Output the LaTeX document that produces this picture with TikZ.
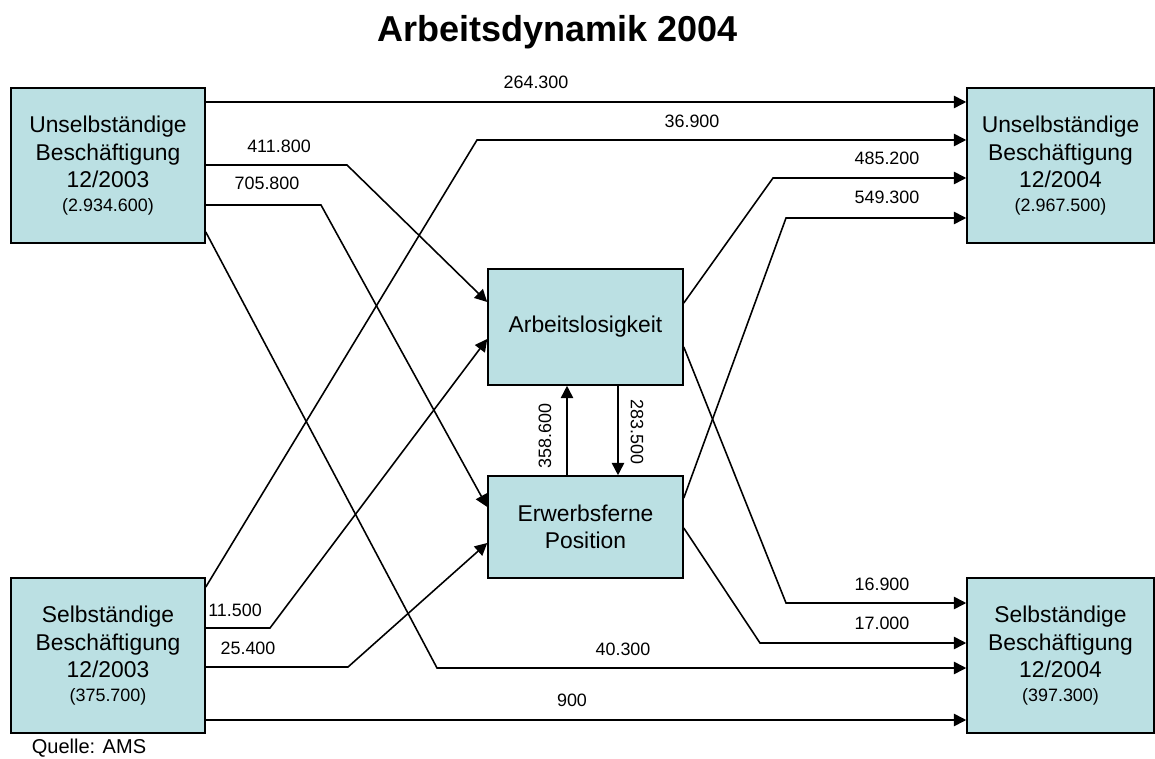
\documentclass[tikz,border=0pt]{standalone}
\usepackage{fontspec}
\setmainfont{Liberation Sans}
\usepackage{tikz}
\usetikzlibrary{arrows.meta}

\definecolor{boxfill}{RGB}{187,224,227}

\tikzset{
  box/.style={draw,line width=0.9pt,fill=boxfill,align=center,inner sep=0pt,
    font=\fontsize{13}{15.5}\selectfont},
  flow/.style={line width=0.9pt,-{Triangle[length=7pt,width=7pt]}},
  num/.style={font=\fontsize{10.2}{12}\selectfont,inner sep=0pt}
}

\newcommand{\sumtxt}[1]{{\fontsize{10.2}{12}\selectfont #1}}

\begin{document}
\begin{tikzpicture}[x=0.02cm,y=-0.02cm]
      \useasboundingbox (0,0) rectangle (1155,759);
      \node[font=\bfseries\fontsize{20.5}{24}\selectfont,anchor=base] (title) at (557.5,41.5) {Arbeitsdynamik 2004};
      \node[box,minimum width=3.88cm,minimum height=3.1cm] (ub03) at (108,165.5)
        {Unselbständige\\Beschäftigung\\12/2003\\[-2pt]\sumtxt{(2.934.600)}};
      \node[box,minimum width=3.88cm,minimum height=3.1cm] (sb03) at (108,655.5)
        {Selbständige\\Beschäftigung\\12/2003\\[-2pt]\sumtxt{(375.700)}};
      \node[box,minimum width=3.9cm,minimum height=2.32cm] (arb) at (585.5,327) {Arbeitslosigkeit};
      \node[box,minimum width=3.9cm,minimum height=2.04cm] (erw) at (585.5,527) {Erwerbsferne\\Position};
      \node[box,minimum width=3.74cm,minimum height=3.1cm] (ub04) at (1060.5,165.5)
        {Unselbständige\\Beschäftigung\\12/2004\\[-2pt]\sumtxt{(2.967.500)}};
      \node[box,minimum width=3.74cm,minimum height=3.1cm] (sb04) at (1060.5,655.5)
        {Selbständige\\Beschäftigung\\12/2004\\[-2pt]\sumtxt{(397.300)}};
      \node[font=\fontsize{11.4}{13}\selectfont] (quelle) at (89,748) {Quelle: AMS};
      % bends
      \coordinate (k369) at (477,140);
      \coordinate (k4852) at (773,178);
      \coordinate (k5493) at (786,218);
      \coordinate (k4118) at (347,165);
      \coordinate (k7058) at (321,205);
      \coordinate (k403) at (437,668);
      \coordinate (k115) at (270,628);
      \coordinate (k254) at (348,667);
      \coordinate (k169) at (786,603);
      \coordinate (k170) at (760,643);
      % flows
      \draw[flow] (ub03.east |- 0,102) -- (ub04.west |- 0,102);
      \draw[flow] (sb03.east |- 0,587) -- (k369) -- (ub04.west |- k369);
      \draw[flow] (arb.east |- 0,303) -- (k4852) -- (ub04.west |- k4852);
      \draw[flow] (erw.east |- 0,498) -- (k5493) -- (ub04.west |- k5493);
      \draw[flow] (ub03.east |- k4118) -- (k4118) -- (arb.west |- 0,302);
      \draw[flow] (ub03.east |- k7058) -- (k7058) -- (erw.west |- 0,507);
      \draw[flow] (ub03.east |- 0,232) -- (k403) -- (sb04.west |- k403);
      \draw[flow] (sb03.east |- k115) -- (k115) -- (arb.west |- 0,339);
      \draw[flow] (sb03.east |- k254) -- (k254) -- (erw.west |- 0,543);
      \draw[flow] (sb03.east |- 0,720) -- (sb04.west |- 0,720);
      \draw[flow] (arb.east |- 0,347) -- (k169) -- (sb04.west |- k169);
      \draw[flow] (erw.east |- 0,528) -- (k170) -- (sb04.west |- k170);
      \draw[flow] (erw.north -| 567,0) -- (arb.south -| 567,0);
      \draw[flow] (arb.south -| 618,0) -- (erw.north -| 618,0);
      % values
      \node[num] (v2643) at (536,82) {264.300};
      \node[num] (v369) at (692,121) {36.900};
      \node[num] (v4852) at (887,158) {485.200};
      \node[num] (v5493) at (887,197) {549.300};
      \node[num] (v4118) at (279,146) {411.800};
      \node[num] (v7058) at (267,183) {705.800};
      \node[num] (v403) at (623,649) {40.300};
      \node[num] (v115) at (235,610) {11.500};
      \node[num] (v254) at (248,648) {25.400};
      \node[num] (v900) at (572,700) {900};
      \node[num] (v169) at (882,584) {16.900};
      \node[num] (v170) at (882,623) {17.000};
      \node[num,rotate=90] (v3586) at (545,436) {358.600};
      \node[num,rotate=-90] (v2835) at (637,432) {283.500};
\end{tikzpicture}
\end{document}
